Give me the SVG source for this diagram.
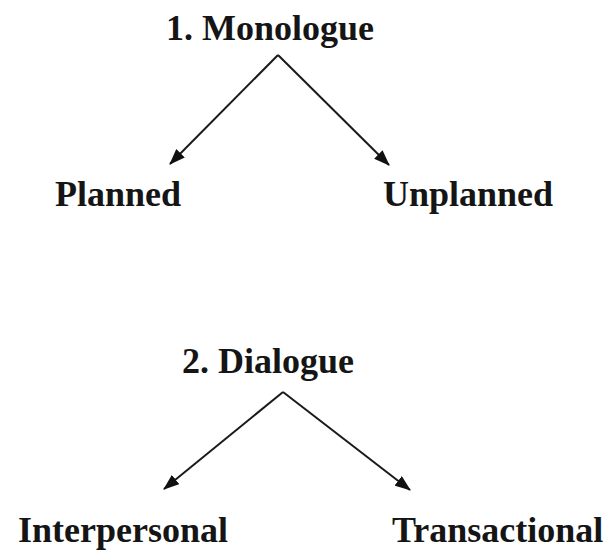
<svg xmlns="http://www.w3.org/2000/svg" width="609" height="556" viewBox="0 0 609 556">
<style>
.t{font-family:"Liberation Serif","Times New Roman",serif;font-weight:bold;font-size:36px;fill:#151515}
.c{stroke:#1a1a1a;stroke-width:2;fill:none;marker-end:url(#ah)}
</style>
<defs>
<marker id="ah" viewBox="0 0 16 12" refX="15" refY="6" markerWidth="16" markerHeight="12" markerUnits="userSpaceOnUse" orient="auto">
<path d="M0,0 L16,6 L0,12 Z" fill="#111"/>
</marker>
</defs>
<rect width="609" height="556" fill="#fff"/>
<g id="connectors">
<line class="c" x1="278" y1="55" x2="170" y2="164"/>
<line class="c" x1="278" y1="55" x2="389" y2="165"/>
<line class="c" x1="283" y1="392" x2="164" y2="489"/>
<line class="c" x1="283" y1="392" x2="410" y2="490"/>
</g>
<g id="monologue"><text class="t" x="166" y="40">1. Monologue</text></g>
<g id="planned"><text class="t" x="55" y="206">Planned</text></g>
<g id="unplanned"><text class="t" x="383" y="206">Unplanned</text></g>
<g id="dialogue"><text class="t" x="182" y="373">2. Dialogue</text></g>
<g id="interpersonal"><text class="t" x="18" y="542">Interpersonal</text></g>
<g id="transactional"><text class="t" x="392" y="542">Transactional</text></g>
</svg>
